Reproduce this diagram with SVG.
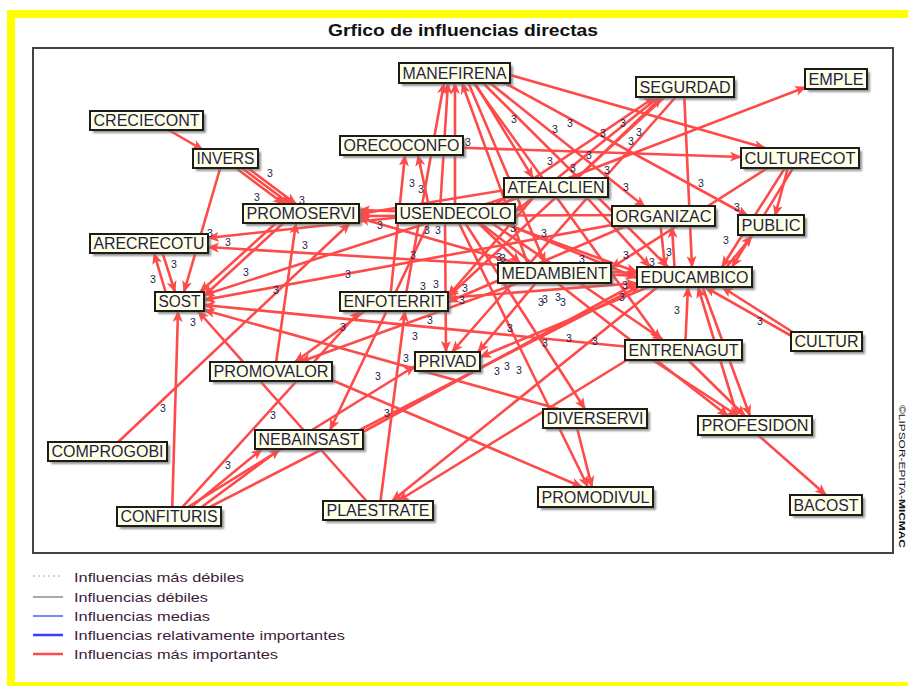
<svg xmlns="http://www.w3.org/2000/svg" width="908" height="686" viewBox="0 0 908 686">
  <defs>
    <marker id="ah" viewBox="0 0 12 10" refX="11" refY="5" markerWidth="12" markerHeight="10" markerUnits="userSpaceOnUse" orient="auto">
      <path d="M0,0 L12,5 L0,10 L3,5 z" fill="#ff4a4a"/>
    </marker>
    <filter id="sh" x="-10%" y="-20%" width="130%" height="160%">
      <feGaussianBlur stdDeviation="1.2"/>
    </filter>
    <style>
      .title{font-family:"Liberation Sans",Arial,sans-serif;font-size:17px;font-weight:bold;fill:#111}
      .e line{stroke:#ff4a4a;stroke-width:2.6;stroke-linecap:round;marker-end:url(#ah)}
      .nd .s{fill:#777;opacity:0.8;filter:url(#sh)}
      .nd .b{fill:#ffffe4;stroke:#1c1c1c;stroke-width:2}
      .nd text{font-family:"Liberation Sans",Arial,sans-serif;font-size:16px;fill:#1e1e4c;text-anchor:middle}
      .w{font-family:"Liberation Sans",Arial,sans-serif;font-size:10.5px;fill:#1e1e4c;text-anchor:middle}
      .lg{font-family:"Liberation Sans",Arial,sans-serif;font-size:13.5px;fill:#3c1c3c}
      .wm{font-family:"Liberation Sans",Arial,sans-serif;font-size:9.5px;fill:#111}
    </style>
  </defs>

  <rect x="0" y="0" width="908" height="686" fill="#fff"/>
  <!-- yellow outer border -->
  <rect x="11" y="14" width="910" height="672" fill="none" stroke="#ffff00" stroke-width="8"/>

  <text class="title" x="463" y="36" text-anchor="middle" textLength="270" lengthAdjust="spacingAndGlyphs">Grfico de influencias directas</text>

  <!-- plot frame -->
  <rect x="33" y="48" width="860" height="505" fill="#fff" stroke="#444" stroke-width="2"/>

  <text class="wm" transform="translate(899,405) rotate(90)" textLength="143" lengthAdjust="spacingAndGlyphs">©LIPSOR-EPITA-<tspan font-weight="bold">MICMAC</tspan></text>

  <!-- influence connectors -->
  <g id="edges" class="e">
    <line x1="160" y1="125" x2="203" y2="150"/>
    <line x1="228" y1="162" x2="284" y2="204"/>
    <line x1="234" y1="162" x2="290" y2="204"/>
    <line x1="240" y1="162" x2="296" y2="204"/>
    <line x1="222" y1="162" x2="184" y2="292"/>
    <line x1="160" y1="245" x2="175" y2="292"/>
    <line x1="168" y1="300" x2="154" y2="253"/>
    <line x1="285" y1="215" x2="200" y2="292"/>
    <line x1="292" y1="215" x2="204" y2="296"/>
    <line x1="420" y1="212" x2="359" y2="210"/>
    <line x1="530" y1="186" x2="359" y2="214"/>
    <line x1="540" y1="270" x2="359" y2="218"/>
    <line x1="650" y1="215" x2="359" y2="216"/>
    <line x1="420" y1="215" x2="208" y2="238"/>
    <line x1="680" y1="276" x2="208" y2="247"/>
    <line x1="530" y1="190" x2="204" y2="295"/>
    <line x1="650" y1="218" x2="204" y2="300"/>
    <line x1="580" y1="415" x2="204" y2="310"/>
    <line x1="370" y1="505" x2="198" y2="311"/>
    <line x1="172" y1="515" x2="178" y2="311"/>
    <line x1="630" y1="347" x2="204" y2="305"/>
    <line x1="115" y1="445" x2="350" y2="223"/>
    <line x1="275" y1="370" x2="296" y2="223"/>
    <line x1="380" y1="300" x2="295" y2="362"/>
    <line x1="540" y1="275" x2="300" y2="362"/>
    <line x1="320" y1="375" x2="582" y2="487"/>
    <line x1="185" y1="512" x2="262" y2="449"/>
    <line x1="195" y1="512" x2="280" y2="449"/>
    <line x1="180" y1="512" x2="415" y2="366"/>
    <line x1="178" y1="512" x2="360" y2="311"/>
    <line x1="200" y1="512" x2="640" y2="286"/>
    <line x1="363" y1="432" x2="637" y2="283"/>
    <line x1="380" y1="505" x2="405" y2="311"/>
    <line x1="660" y1="285" x2="392" y2="501"/>
    <line x1="640" y1="352" x2="398" y2="501"/>
    <line x1="430" y1="220" x2="330" y2="430"/>
    <line x1="445" y1="220" x2="446" y2="352"/>
    <line x1="680" y1="92" x2="452" y2="352"/>
    <line x1="440" y1="210" x2="448" y2="83"/>
    <line x1="455" y1="210" x2="455" y2="83"/>
    <line x1="405" y1="300" x2="444" y2="83"/>
    <line x1="530" y1="270" x2="462" y2="83"/>
    <line x1="390" y1="300" x2="405" y2="155"/>
    <line x1="430" y1="212" x2="418" y2="155"/>
    <line x1="470" y1="75" x2="533" y2="178"/>
    <line x1="465" y1="75" x2="545" y2="263"/>
    <line x1="480" y1="75" x2="645" y2="207"/>
    <line x1="475" y1="75" x2="668" y2="267"/>
    <line x1="490" y1="75" x2="748" y2="216"/>
    <line x1="500" y1="72" x2="765" y2="148"/>
    <line x1="470" y1="78" x2="660" y2="340"/>
    <line x1="440" y1="147" x2="741" y2="157"/>
    <line x1="684" y1="90" x2="692" y2="267"/>
    <line x1="665" y1="92" x2="515" y2="212"/>
    <line x1="670" y1="92" x2="448" y2="297"/>
    <line x1="490" y1="208" x2="655" y2="97"/>
    <line x1="570" y1="185" x2="662" y2="97"/>
    <line x1="480" y1="212" x2="806" y2="87"/>
    <line x1="790" y1="160" x2="722" y2="267"/>
    <line x1="798" y1="160" x2="732" y2="267"/>
    <line x1="780" y1="160" x2="611" y2="268"/>
    <line x1="790" y1="160" x2="775" y2="216"/>
    <line x1="720" y1="275" x2="752" y2="236"/>
    <line x1="675" y1="275" x2="672" y2="227"/>
    <line x1="660" y1="220" x2="665" y2="267"/>
    <line x1="480" y1="215" x2="637" y2="272"/>
    <line x1="490" y1="217" x2="637" y2="278"/>
    <line x1="420" y1="300" x2="637" y2="283"/>
    <line x1="580" y1="273" x2="637" y2="276"/>
    <line x1="580" y1="190" x2="650" y2="267"/>
    <line x1="470" y1="215" x2="520" y2="263"/>
    <line x1="480" y1="215" x2="663" y2="340"/>
    <line x1="460" y1="215" x2="585" y2="409"/>
    <line x1="455" y1="215" x2="588" y2="487"/>
    <line x1="470" y1="215" x2="728" y2="416"/>
    <line x1="575" y1="420" x2="592" y2="487"/>
    <line x1="685" y1="350" x2="688" y2="287"/>
    <line x1="740" y1="425" x2="698" y2="287"/>
    <line x1="700" y1="280" x2="750" y2="416"/>
    <line x1="645" y1="355" x2="738" y2="416"/>
    <line x1="683" y1="355" x2="745" y2="416"/>
    <line x1="805" y1="340" x2="722" y2="287"/>
    <line x1="795" y1="338" x2="705" y2="287"/>
    <line x1="750" y1="428" x2="826" y2="495"/>
    <line x1="660" y1="282" x2="480" y2="357"/>
    <line x1="540" y1="190" x2="448" y2="296"/>
    <line x1="640" y1="220" x2="448" y2="302"/>
    <line x1="540" y1="278" x2="478" y2="352"/>
  </g>

  <!-- influence weights -->
  <g id="weights" class="w">
    <text x="270" y="177">3</text><text x="257" y="201">3</text><text x="302" y="204">3</text>
    <text x="228" y="246">3</text><text x="210" y="237">3</text><text x="305" y="249">3</text>
    <text x="514" y="123">3</text><text x="555" y="133">3</text><text x="570" y="127">3</text>
    <text x="603" y="137">3</text><text x="623" y="127">3</text><text x="468" y="146">3</text>
    <text x="550" y="165">3</text><text x="589" y="159">3</text><text x="573" y="172">3</text>
    <text x="607" y="174">3</text><text x="626" y="191">3</text><text x="412" y="187">3</text>
    <text x="421" y="193">3</text><text x="380" y="229">3</text><text x="544" y="237">3</text>
    <text x="513" y="232">3</text><text x="427" y="234">3</text><text x="438" y="234">3</text>
    <text x="639" y="136">3</text><text x="631" y="145">3</text>
    <text x="701" y="187">3</text><text x="737" y="211">3</text><text x="726" y="244">3</text>
    <text x="153" y="283">3</text><text x="174" y="268">3</text>
    <text x="246" y="276">3</text><text x="276" y="294">3</text><text x="193" y="326">3</text>
    <text x="163" y="412">3</text><text x="273" y="419">3</text><text x="413" y="259">3</text>
    <text x="348" y="278">3</text><text x="423" y="290">3</text><text x="436" y="288">3</text>
    <text x="465" y="292">3</text><text x="462" y="304">3</text><text x="430" y="324">3</text>
    <text x="343" y="331">3</text><text x="415" y="340">3</text><text x="406" y="362">3</text>
    <text x="378" y="380">3</text><text x="510" y="332">3</text><text x="545" y="347">3</text>
    <text x="569" y="342">3</text><text x="595" y="345">3</text><text x="497" y="375">3</text>
    <text x="507" y="370">3</text><text x="519" y="374">3</text><text x="541" y="306">3</text>
    <text x="545" y="303">3</text><text x="558" y="301">3</text><text x="563" y="306">3</text>
    <text x="387" y="417">3</text><text x="626" y="259">3</text><text x="625" y="289">3</text>
    <text x="622" y="301">3</text><text x="499" y="261">3</text><text x="503" y="262">3</text>
    <text x="582" y="263">3</text><text x="669" y="256">3</text><text x="652" y="266">3</text>
    <text x="677" y="314">3</text><text x="760" y="325">3</text>
    <text x="228" y="469">3</text>
  </g>

  <!-- variables -->
  <g id="n-manefirena" class="nd"><rect class="s" x="402" y="66" width="111" height="20"/><rect class="b" x="399" y="63" width="111" height="20"/><text x="454.5" y="78.5" textLength="104" lengthAdjust="spacingAndGlyphs">MANEFIRENA</text></g>
  <g id="n-orecoconfo" class="nd"><rect class="s" x="343" y="139" width="123" height="19"/><rect class="b" x="340" y="136" width="123" height="19"/><text x="401.5" y="151" textLength="116" lengthAdjust="spacingAndGlyphs">ORECOCONFO</text></g>
  <g id="n-atealclien" class="nd"><rect class="s" x="507" y="181" width="104" height="19"/><rect class="b" x="504" y="178" width="104" height="19"/><text x="556" y="193" textLength="97" lengthAdjust="spacingAndGlyphs">ATEALCLIEN</text></g>
  <g id="n-usendecolo" class="nd"><rect class="s" x="399" y="207" width="119" height="19"/><rect class="b" x="396" y="204" width="119" height="19"/><text x="455.5" y="219" textLength="112" lengthAdjust="spacingAndGlyphs">USENDECOLO</text></g>
  <g id="n-segurdad" class="nd"><rect class="s" x="639" y="80" width="98" height="20"/><rect class="b" x="636" y="77" width="98" height="20"/><text x="685" y="92.5" textLength="91" lengthAdjust="spacingAndGlyphs">SEGURDAD</text></g>
  <g id="n-emple" class="nd"><rect class="s" x="808" y="72" width="62" height="20"/><rect class="b" x="805" y="69" width="62" height="20"/><text x="836" y="84.5" textLength="55" lengthAdjust="spacingAndGlyphs">EMPLE</text></g>
  <g id="n-culturecot" class="nd"><rect class="s" x="744" y="151" width="118" height="20"/><rect class="b" x="741" y="148" width="118" height="20"/><text x="800" y="163.5" textLength="111" lengthAdjust="spacingAndGlyphs">CULTURECOT</text></g>
  <g id="n-organizac" class="nd"><rect class="s" x="615" y="209" width="103" height="20"/><rect class="b" x="612" y="206" width="103" height="20"/><text x="663.5" y="221.5" textLength="96" lengthAdjust="spacingAndGlyphs">ORGANIZAC</text></g>
  <g id="n-public" class="nd"><rect class="s" x="741" y="218" width="66" height="20"/><rect class="b" x="738" y="215" width="66" height="20"/><text x="771" y="230.5" textLength="59" lengthAdjust="spacingAndGlyphs">PUBLIC</text></g>
  <g id="n-creciecont" class="nd"><rect class="s" x="93" y="114" width="113" height="19"/><rect class="b" x="90" y="111" width="113" height="19"/><text x="146.5" y="126" textLength="106" lengthAdjust="spacingAndGlyphs">CRECIECONT</text></g>
  <g id="n-invers" class="nd"><rect class="s" x="196" y="152" width="65" height="19"/><rect class="b" x="193" y="149" width="65" height="19"/><text x="225.5" y="164" textLength="58" lengthAdjust="spacingAndGlyphs">INVERS</text></g>
  <g id="n-promoservi" class="nd"><rect class="s" x="246" y="207" width="116" height="19"/><rect class="b" x="243" y="204" width="116" height="19"/><text x="301" y="219" textLength="109" lengthAdjust="spacingAndGlyphs">PROMOSERVI</text></g>
  <g id="n-arecrecotu" class="nd"><rect class="s" x="93" y="237" width="118" height="19"/><rect class="b" x="90" y="234" width="118" height="19"/><text x="149" y="249" textLength="111" lengthAdjust="spacingAndGlyphs">ARECRECOTU</text></g>
  <g id="n-sost" class="nd"><rect class="s" x="158" y="295" width="49" height="19"/><rect class="b" x="155" y="292" width="49" height="19"/><text x="179.5" y="307" textLength="42" lengthAdjust="spacingAndGlyphs">SOST</text></g>
  <g id="n-promovalor" class="nd"><rect class="s" x="213" y="365" width="122" height="19"/><rect class="b" x="210" y="362" width="122" height="19"/><text x="271" y="377" textLength="115" lengthAdjust="spacingAndGlyphs">PROMOVALOR</text></g>
  <g id="n-enfoterrit" class="nd"><rect class="s" x="343" y="295" width="108" height="19"/><rect class="b" x="340" y="292" width="108" height="19"/><text x="394" y="307" textLength="101" lengthAdjust="spacingAndGlyphs">ENFOTERRIT</text></g>
  <g id="n-medambient" class="nd"><rect class="s" x="501" y="266" width="113" height="20"/><rect class="b" x="498" y="263" width="113" height="20"/><text x="554.5" y="278.5" textLength="106" lengthAdjust="spacingAndGlyphs">MEDAMBIENT</text></g>
  <g id="n-privad" class="nd"><rect class="s" x="418" y="355" width="65" height="19"/><rect class="b" x="415" y="352" width="65" height="19"/><text x="447.5" y="367" textLength="58" lengthAdjust="spacingAndGlyphs">PRIVAD</text></g>
  <g id="n-diverservi" class="nd"><rect class="s" x="546" y="412" width="104" height="19"/><rect class="b" x="543" y="409" width="104" height="19"/><text x="595" y="424" textLength="97" lengthAdjust="spacingAndGlyphs">DIVERSERVI</text></g>
  <g id="n-educambico" class="nd"><rect class="s" x="640" y="270" width="115" height="20"/><rect class="b" x="637" y="267" width="115" height="20"/><text x="694.5" y="282.5" textLength="108" lengthAdjust="spacingAndGlyphs">EDUCAMBICO</text></g>
  <g id="n-entrenagut" class="nd"><rect class="s" x="628" y="343" width="117" height="20"/><rect class="b" x="625" y="340" width="117" height="20"/><text x="683.5" y="355.5" textLength="110" lengthAdjust="spacingAndGlyphs">ENTRENAGUT</text></g>
  <g id="n-cultur" class="nd"><rect class="s" x="794" y="335" width="71" height="19"/><rect class="b" x="791" y="332" width="71" height="19"/><text x="826.5" y="347" textLength="64" lengthAdjust="spacingAndGlyphs">CULTUR</text></g>
  <g id="n-profesidon" class="nd"><rect class="s" x="701" y="419" width="114" height="19"/><rect class="b" x="698" y="416" width="114" height="19"/><text x="755" y="431" textLength="107" lengthAdjust="spacingAndGlyphs">PROFESIDON</text></g>
  <g id="n-promodivul" class="nd"><rect class="s" x="541" y="490" width="115" height="20"/><rect class="b" x="538" y="487" width="115" height="20"/><text x="595.5" y="502.5" textLength="108" lengthAdjust="spacingAndGlyphs">PROMODIVUL</text></g>
  <g id="n-bacost" class="nd"><rect class="s" x="793" y="498" width="72" height="20"/><rect class="b" x="790" y="495" width="72" height="20"/><text x="826" y="510.5" textLength="65" lengthAdjust="spacingAndGlyphs">BACOST</text></g>
  <g id="n-comprogobi" class="nd"><rect class="s" x="51" y="445" width="119" height="19"/><rect class="b" x="48" y="442" width="119" height="19"/><text x="107.5" y="457" textLength="112" lengthAdjust="spacingAndGlyphs">COMPROGOBI</text></g>
  <g id="n-nebainsast" class="nd"><rect class="s" x="258" y="433" width="108" height="19"/><rect class="b" x="255" y="430" width="108" height="19"/><text x="309" y="445" textLength="101" lengthAdjust="spacingAndGlyphs">NEBAINSAST</text></g>
  <g id="n-confituris" class="nd"><rect class="s" x="120" y="510" width="104" height="19"/><rect class="b" x="117" y="507" width="104" height="19"/><text x="169" y="522" textLength="97" lengthAdjust="spacingAndGlyphs">CONFITURIS</text></g>
  <g id="n-plaestrate" class="nd"><rect class="s" x="326" y="504" width="110" height="19"/><rect class="b" x="323" y="501" width="110" height="19"/><text x="378" y="516" textLength="103" lengthAdjust="spacingAndGlyphs">PLAESTRATE</text></g>

  <!-- legend -->
  <g id="legend">
    <line x1="33" y1="576" x2="63" y2="576" stroke="#aaa" stroke-width="1" stroke-dasharray="2,3"/>
    <line x1="33" y1="597" x2="63" y2="597" stroke="#555" stroke-width="1"/>
    <line x1="33" y1="616" x2="63" y2="616" stroke="#3030ff" stroke-width="1.2"/>
    <line x1="33" y1="635" x2="63" y2="635" stroke="#3c3cff" stroke-width="2.5"/>
    <line x1="33" y1="654" x2="63" y2="654" stroke="#ff4a4a" stroke-width="2.5"/>
    <text class="lg" x="74" y="582" textLength="170" lengthAdjust="spacingAndGlyphs">Influencias más débiles</text>
    <text class="lg" x="74" y="602" textLength="134" lengthAdjust="spacingAndGlyphs">Influencias débiles</text>
    <text class="lg" x="74" y="621" textLength="136" lengthAdjust="spacingAndGlyphs">Influencias medias</text>
    <text class="lg" x="74" y="640" textLength="271" lengthAdjust="spacingAndGlyphs">Influencias relativamente importantes</text>
    <text class="lg" x="74" y="659" textLength="204" lengthAdjust="spacingAndGlyphs">Influencias más importantes</text>
  </g>
</svg>
